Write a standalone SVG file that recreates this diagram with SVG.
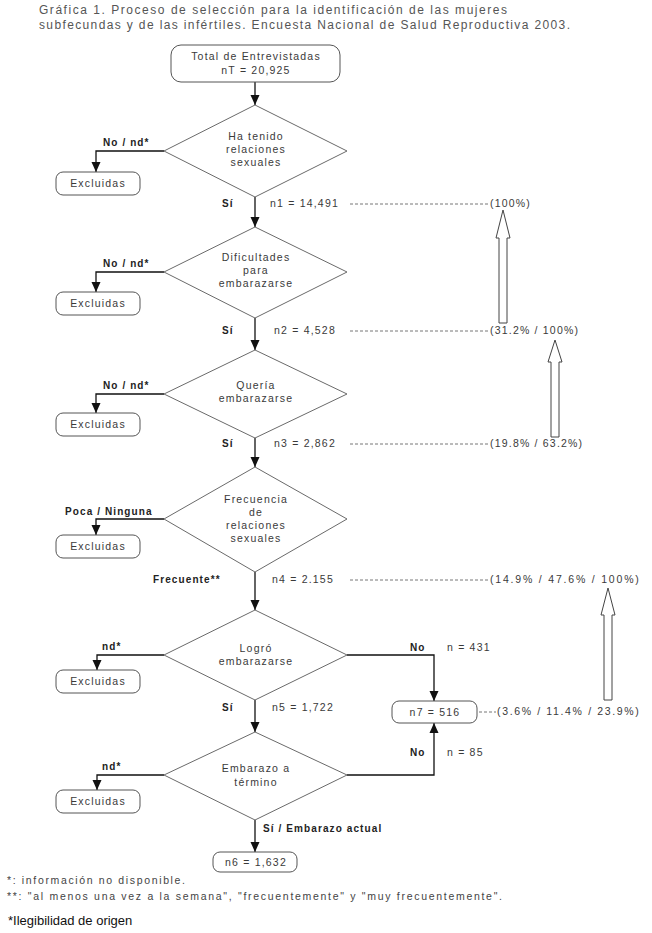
<svg xmlns="http://www.w3.org/2000/svg" width="652" height="933" viewBox="0 0 652 933">
<style>
  text { font-family: "Liberation Sans", Arial, sans-serif; fill: #3a3a3a; }
  .t { font-size: 10.5px; letter-spacing: 1.2px; }
  .c { text-anchor: middle; }
  .b { font-size: 10px; font-weight: bold; letter-spacing: 1.1px; fill: #222; }
  .title { font-size: 12px; fill: #555; }
  .fn { font-size: 10.5px; fill: #444; }
  .dia { fill: #fff; stroke: #6a6a6a; stroke-width: 1; }
  .box { fill: #fff; stroke: #555; stroke-width: 1; }
  .ln { fill: none; stroke: #111; stroke-width: 1.3; }
  .dash { stroke: #777; stroke-width: 1; stroke-dasharray: 3 2; }
  .blk { fill: #fff; stroke: #444; stroke-width: 1; }
</style>
<defs>
  <marker id="ah" markerUnits="userSpaceOnUse" markerWidth="10" markerHeight="10" viewBox="0 0 10 10" refX="10" refY="5" orient="auto">
    <path d="M0,0.5 L10,5 L0,9.5 Z" fill="#111"/>
  </marker>
</defs>

<g id="title">
  <text class="title" x="39" y="14" textLength="468" lengthAdjust="spacing">Gráfica 1. Proceso de selección para la identificación de las mujeres</text>
  <text class="title" x="39" y="29" textLength="531" lengthAdjust="spacing">subfecundas y de las infértiles. Encuesta Nacional de Salud Reproductiva 2003.</text>
</g>

<g id="connectors">
  <line class="ln" x1="255" y1="82" x2="255" y2="105" marker-end="url(#ah)"/>
  <line class="ln" x1="255" y1="197" x2="255" y2="227" marker-end="url(#ah)"/>
  <line class="ln" x1="255" y1="318" x2="255" y2="350" marker-end="url(#ah)"/>
  <line class="ln" x1="255" y1="438" x2="255" y2="467" marker-end="url(#ah)"/>
  <line class="ln" x1="255" y1="572" x2="255" y2="610" marker-end="url(#ah)"/>
  <line class="ln" x1="255" y1="700" x2="255" y2="732" marker-end="url(#ah)"/>
  <line class="ln" x1="255" y1="820" x2="255" y2="852" marker-end="url(#ah)"/>
  <polyline class="ln" points="164,151 96,151 96,172" marker-end="url(#ah)"/>
  <polyline class="ln" points="164,272 96,272 96,292" marker-end="url(#ah)"/>
  <polyline class="ln" points="164,394 96,394 96,413" marker-end="url(#ah)"/>
  <polyline class="ln" points="164,519 96,519 96,535" marker-end="url(#ah)"/>
  <polyline class="ln" points="164,655 97,655 97,670" marker-end="url(#ah)"/>
  <polyline class="ln" points="164,775 97,775 97,790" marker-end="url(#ah)"/>
  <polyline class="ln" points="347,655 434,655 434,701" marker-end="url(#ah)"/>
  <polyline class="ln" points="347,775 434,775 434,723" marker-end="url(#ah)"/>
  <line class="dash" x1="350" y1="204" x2="488" y2="204"/>
  <line class="dash" x1="350" y1="331" x2="488" y2="331"/>
  <line class="dash" x1="350" y1="444" x2="488" y2="444"/>
  <line class="dash" x1="350" y1="580" x2="488" y2="580"/>
  <line class="dash" x1="479" y1="712" x2="496" y2="712"/>
  <path class="blk" d="M499,323 L499,238 L496,238 L503,210 L510,238 L507,238 L507,323 Z"/>
  <path class="blk" d="M551,437 L551,362 L548,362 L555,340 L562,362 L559,362 L559,437 Z"/>
  <path class="blk" d="M604,700 L604,615 L601,615 L608,588 L615,615 L612,615 L612,700 Z"/>
</g>

<g id="labels">
  <text class="b" x="103" y="146">No / nd*</text>
  <text class="b" x="103" y="267">No / nd*</text>
  <text class="b" x="103" y="389">No / nd*</text>
  <text class="b" x="65" y="515">Poca / Ninguna</text>
  <text class="b" x="102" y="650">nd*</text>
  <text class="b" x="102" y="770">nd*</text>
  <text class="b" x="222" y="207">Sí</text>
  <text class="b" x="222" y="334">Sí</text>
  <text class="b" x="222" y="447">Sí</text>
  <text class="b" x="153" y="583">Frecuente**</text>
  <text class="b" x="222" y="711">Sí</text>
  <text class="b" x="263" y="832">Sí / Embarazo actual</text>
  <text class="b" x="410" y="651">No</text>
  <text class="b" x="410" y="756">No</text>
  <text class="t" x="270" y="207">n1 = 14,491</text>
  <text class="t" x="274" y="334">n2 = 4,528</text>
  <text class="t" x="274" y="447">n3 = 2,862</text>
  <text class="t" x="272" y="583">n4 = 2.155</text>
  <text class="t" x="272" y="711">n5 = 1,722</text>
  <text class="t" x="447" y="651">n = 431</text>
  <text class="t" x="447" y="756">n = 85</text>
  <text class="t" x="490" y="207">(100%)</text>
  <text class="t" x="490" y="334">(31.2% / 100%)</text>
  <text class="t" x="490" y="447">(19.8% / 63.2%)</text>
  <text class="t" x="490" y="583" textLength="150" lengthAdjust="spacing">(14.9% / 47.6% / 100%)</text>
  <text class="t" x="497" y="715" textLength="143" lengthAdjust="spacing">(3.6% / 11.4% / 23.9%)</text>
</g>

<g id="total">
  <rect class="box" x="171" y="45" width="169" height="37" rx="10"/>
  <text class="t c" x="256" y="60">Total de Entrevistadas</text>
  <text class="t c" x="256" y="74">nT = 20,925</text>
</g>

<g id="d1">
  <polygon class="dia" points="255,105 347,151 255,197 164,151"/>
  <text class="t c" x="256" y="140">Ha tenido</text>
  <text class="t c" x="256" y="153">relaciones</text>
  <text class="t c" x="256" y="166">sexuales</text>
</g>
<g id="d2">
  <polygon class="dia" points="255,227 347,272 255,318 164,272"/>
  <text class="t c" x="256" y="261">Dificultades</text>
  <text class="t c" x="256" y="274">para</text>
  <text class="t c" x="256" y="287">embarazarse</text>
</g>
<g id="d3">
  <polygon class="dia" points="255,350 347,394 255,438 164,394"/>
  <text class="t c" x="256" y="389">Quería</text>
  <text class="t c" x="256" y="402">embarazarse</text>
</g>
<g id="d4">
  <polygon class="dia" points="255,467 347,519 255,572 164,519"/>
  <text class="t c" x="256" y="503">Frecuencia</text>
  <text class="t c" x="256" y="516">de</text>
  <text class="t c" x="256" y="529">relaciones</text>
  <text class="t c" x="256" y="542">sexuales</text>
</g>
<g id="d5">
  <polygon class="dia" points="255,610 347,655 255,700 164,655"/>
  <text class="t c" x="256" y="652">Logró</text>
  <text class="t c" x="256" y="665">embarazarse</text>
</g>
<g id="d6">
  <polygon class="dia" points="255,732 347,775 255,820 164,775"/>
  <text class="t c" x="256" y="772">Embarazo a</text>
  <text class="t c" x="256" y="786">término</text>
</g>

<g id="ex1"><rect class="box" x="56" y="172" width="84" height="23" rx="7"/><text class="t c" x="98" y="187">Excluidas</text></g>
<g id="ex2"><rect class="box" x="56" y="292" width="84" height="23" rx="7"/><text class="t c" x="98" y="307">Excluidas</text></g>
<g id="ex3"><rect class="box" x="56" y="413" width="84" height="23" rx="7"/><text class="t c" x="98" y="428">Excluidas</text></g>
<g id="ex4"><rect class="box" x="56" y="535" width="84" height="23" rx="7"/><text class="t c" x="98" y="550">Excluidas</text></g>
<g id="ex5"><rect class="box" x="56" y="670" width="84" height="23" rx="7"/><text class="t c" x="98" y="685">Excluidas</text></g>
<g id="ex6"><rect class="box" x="56" y="790" width="84" height="23" rx="7"/><text class="t c" x="98" y="805">Excluidas</text></g>

<g id="n7"><rect class="box" x="392" y="701" width="85" height="22" rx="7"/><text class="t c" x="435" y="716">n7 = 516</text></g>
<g id="n6"><rect class="box" x="213" y="852" width="84" height="20" rx="7"/><text class="t c" x="256" y="866">n6 = 1,632</text></g>

<g id="footnotes">
  <text class="fn" x="7" y="884" textLength="178" lengthAdjust="spacing">*: información no disponible.</text>
  <text class="fn" x="7" y="900" textLength="495" lengthAdjust="spacing">**: "al menos una vez a la semana", "frecuentemente" y "muy frecuentemente".</text>
  <text x="8" y="925" style="font-size:13px;fill:#111">*Ilegibilidad de origen</text>
</g>
</svg>
